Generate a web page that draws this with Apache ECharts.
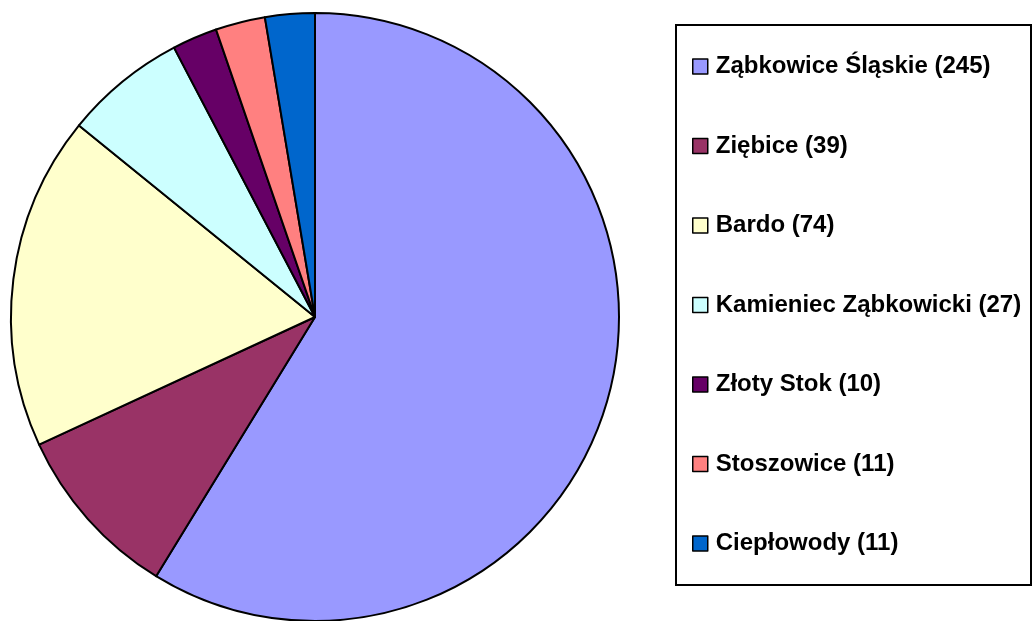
<!DOCTYPE html>
<html>
<head>
<meta charset="utf-8">
<script src="https://cdn.jsdelivr.net/npm/echarts@6/dist/echarts.min.js"></script>
<style>
  html, body { margin: 0; padding: 0; background: #fff; }
  #chart { width: 1033px; height: 621px; }
</style>
</head>
<body>
<div id="chart"></div>
<script>
const names = ['Ząbkowice Śląskie', 'Ziębice', 'Bardo', 'Kamieniec Ząbkowicki', 'Złoty Stok', 'Stoszowice', 'Ciepłowody'];
const counts = [245, 39, 74, 27, 10, 11, 11];
const colors = ['#9999FF', '#993366', '#FFFFCC', '#CCFFFF', '#660066', '#FF8080', '#0066CC'];

const chart = echarts.init(document.getElementById('chart'));

const option = {
  animation: false,
  color: colors,
  graphic: [{
    type: 'rect',
    shape: { x: 676, y: 25, width: 355, height: 560 },
    style: { fill: '#fff', stroke: '#000', lineWidth: 2 },
    z: -1
  }],
  legend: {
    orient: 'vertical',
    left: 687,
    top: 49.5,
    itemWidth: 15,
    itemHeight: 15,
    itemGap: 55.5,
    icon: 'rect',
    itemStyle: { borderColor: '#000', borderWidth: 1.5 },
    textStyle: {
      fontFamily: 'Liberation Sans, Arial, sans-serif',
      fontWeight: 'bold',
      fontSize: 24,
      lineHeight: 24,
      color: '#000',
      padding: [0, 0, 0, 3]
    },
    formatter: function (name) {
      return name + ' (' + counts[names.indexOf(name)] + ')';
    },
    data: names
  },
  series: [{
    type: 'pie',
    center: [315, 317],
    radius: 304,
    startAngle: 90,
    clockwise: true,
    label: { show: false },
    labelLine: { show: false },
    emphasis: { disabled: true },
    itemStyle: { borderColor: '#000', borderWidth: 2 },
    data: names.map((n, i) => ({ name: n, value: counts[i] }))
  }]
};

chart.setOption(option);
</script>
</body>
</html>
